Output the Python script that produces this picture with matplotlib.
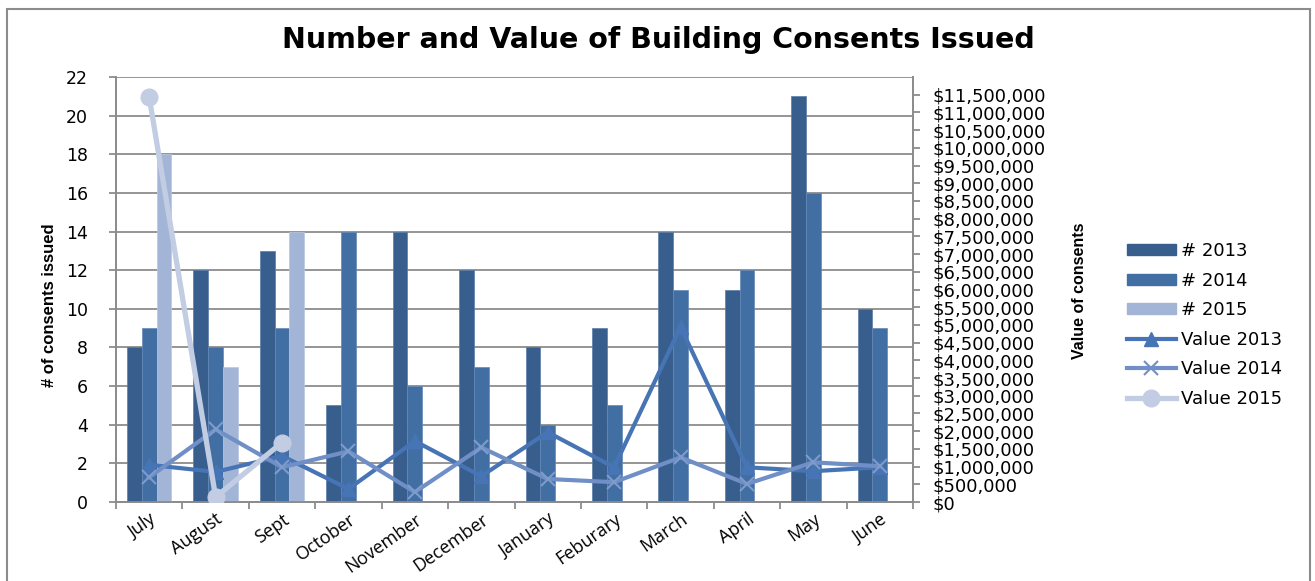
import numpy as np
import matplotlib
matplotlib.use("Agg")
import matplotlib.pyplot as plt
from matplotlib.patches import Rectangle, Patch
from matplotlib.lines import Line2D
from matplotlib.ticker import FuncFormatter, MultipleLocator

months = ["July", "August", "Sept", "October", "November", "December",
          "January", "Feburary", "March", "April", "May", "June"]
n2013 = [8, 12, 13, 5, 14, 12, 8, 9, 14, 11, 21, 10]
n2014 = [9, 8, 9, 14, 6, 7, 4, 5, 11, 12, 16, 9]
n2015 = [18, 7, 14] + [np.nan] * 9
v2013 = [1050000, 850000, 1300000, 370000, 1720000, 730000,
         1970000, 980000, 4940000, 980000, 870000, 980000]
v2014 = [700000, 2050000, 980000, 1430000, 280000, 1540000,
         650000, 560000, 1260000, 510000, 1120000, 1010000]
v2015 = [11430000, 140000, 1680000] + [np.nan] * 9

c_b13, c_b14, c_b15 = "#375E8C", "#426FA3", "#A3B5D6"
c_v13, c_v14, c_v15 = "#4674B4", "#6F8FC6", "#C2CDE3"

W, H = 1315, 581
fig = plt.figure(figsize=(W / 100, H / 100), dpi=100)
ax = fig.add_axes([116 / W, 1 - 502 / H, (913 - 116) / W, (502 - 77) / H])
ax2 = ax.twinx()

x = np.arange(len(months))
bw = 1 / 4.5
ax.bar(x - bw, n2013, bw, color=c_b13, edgecolor="#5A7CA8", linewidth=0.5, zorder=3)
ax.bar(x, n2014, bw, color=c_b14, edgecolor="#6589B8", linewidth=0.5, zorder=3)
ax.bar(x + bw, n2015, bw, color=c_b15, edgecolor="#B8C7E0", linewidth=0.5, zorder=3)

ax.set_xlim(-0.5, len(months) - 0.5)
ax.set_ylim(0, 22)
ax.yaxis.set_major_locator(MultipleLocator(2))
ax.grid(axis="y", color="#8C8C8C", linewidth=1.3, zorder=0)
ax.set_axisbelow(True)

ax2.plot(x, v2013, color=c_v13, lw=3, marker="^", ms=10, mfc=c_v13, mec=c_v13, zorder=4)
ax2.plot(x, v2014, color=c_v14, lw=3, marker="x", ms=10, mew=1.5, mec="#7E9BCC", zorder=5)
ax2.plot(x, v2015, color=c_v15, lw=3.8, marker="o", ms=12, mfc=c_v15, mec=c_v15, zorder=6)
ax2.set_ylim(0, 12000000)
ax2.set_yticks(np.arange(0, 11500001, 500000))
ax2.yaxis.set_major_formatter(FuncFormatter(lambda v, p: "${:,.0f}".format(v)))

for a in (ax, ax2):
    for s in a.spines.values():
        s.set_color("#8C8C8C")
        s.set_linewidth(1.3)
    a.spines["top"].set_visible(False)

ax.set_xticks(x)
ax.set_xticklabels(months, rotation=35, ha="right", rotation_mode="anchor",
                   fontsize=13, family="Open Sans")
ax.set_xticks(np.arange(-0.5, len(months)), minor=True)
ax.tick_params(axis="x", which="major", length=0, pad=6)
ax.tick_params(axis="x", which="minor", length=5, color="#8C8C8C", width=1.3)
ax.tick_params(axis="y", length=5, color="#8C8C8C", width=1.3, labelsize=12.5, pad=15)
ax2.tick_params(axis="y", length=5, color="#8C8C8C", width=1.3, labelsize=13, pad=9)

fig.text(658 / W, 1 - 40 / H, "Number and Value of Building Consents Issued",
         ha="center", va="center", fontsize=20.5, fontweight="bold")
fig.text(50 / W, 1 - 305 / H, "# of consents issued", rotation=90,
         ha="center", va="center", fontsize=12, fontweight="bold",
         family="Liberation Sans")
fig.text(1080 / W, 1 - 291 / H, "Value of consents", rotation=90,
         ha="center", va="center", fontsize=11.5, fontweight="bold",
         family="Liberation Sans")

handles = [
    Patch(color=c_b13), Patch(color=c_b14), Patch(color=c_b15),
    Line2D([], [], color=c_v13, lw=3, marker="^", ms=10),
    Line2D([], [], color=c_v14, lw=3, marker="x", ms=10, mew=1.5),
    Line2D([], [], color=c_v15, lw=3.8, marker="o", ms=12),
]
labels = ["# 2013", "# 2014", "# 2015", "Value 2013", "Value 2014", "Value 2015"]
fig.legend(handles, labels, loc="upper left", bbox_to_anchor=(1127 / W, 1 - 242 / H),
           frameon=False, fontsize=13, handlelength=2.7, handleheight=0.55,
           labelspacing=0.64, handletextpad=0.3, borderaxespad=0, borderpad=0)

fig.patches.append(Rectangle((7 / W, -0.05), (1310 - 7) / W, 1.05 - 9 / H,
                             transform=fig.transFigure, fill=False,
                             edgecolor="#8C8C8C", linewidth=1.5))

fig.savefig("out.png", dpi=100, facecolor="white")
